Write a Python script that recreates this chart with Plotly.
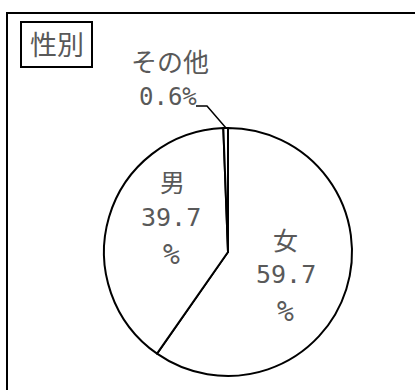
import plotly.graph_objects as go

categories = ["女", "男", "その他"]
values = [59.7, 39.7, 0.6]
value_labels = ["59.7", "39.7", "0.6"]
title_text = "性別"

W, H = 415, 390
def px(x):
    return x / W
def py(y):
    return 1 - y / H

TEXT = "#595959"
FONT_CJK = "Noto Sans CJK JP"
FONT_NUM = "DejaVu Sans Mono"

fig = go.Figure()
fig.add_trace(go.Pie(
    labels=categories,
    values=values,
    sort=False,
    direction="clockwise",
    rotation=0,
    textinfo="none",
    hoverinfo="label+percent",
    marker=dict(colors=["#ffffff"] * 3, line=dict(color="#000000", width=2)),
    domain=dict(x=[px(104), px(352)], y=[py(376), py(128)]),
    showlegend=False,
))

anns = []
def add(text, x, y, size, font=FONT_CJK):
    anns.append(dict(text=text, x=px(x), y=py(y), xref="paper", yref="paper",
                     showarrow=False, xanchor="center", yanchor="middle",
                     font=dict(size=size, color=TEXT, family=font)))

add(title_text, 57, 43, 27)
# その他
add(categories[2], 170, 60.5, 26)
add(value_labels[2] + "%", 168, 96.5, 24, FONT_NUM)
# 男
add(categories[1], 172, 181, 25)
add(value_labels[1], 171, 217.5, 25, FONT_NUM)
add("%", 171.5, 254, 28, FONT_NUM)
# 女
add(categories[0], 285, 238.5, 25)
add(value_labels[0], 285.5, 274, 25, FONT_NUM)
add("%", 285, 311, 28, FONT_NUM)

shapes = [
    # outer frame
    dict(type="rect", xref="paper", yref="paper", x0=px(7), x1=px(430), y0=py(405), y1=py(13),
         line=dict(color="#000", width=2), fillcolor="rgba(0,0,0,0)"),
    # title box
    dict(type="rect", xref="paper", yref="paper", x0=px(21), x1=px(92), y0=py(67), y1=py(22),
         line=dict(color="#000", width=2), fillcolor="rgba(0,0,0,0)"),
    # leader line for その他
    dict(type="path", xref="paper", yref="paper",
         path=f"M {px(196)} {py(106)} L {px(207)} {py(106)} L {px(226)} {py(128)}",
         line=dict(color="#000", width=1.5)),
]

fig.update_layout(
    width=W, height=H,
    margin=dict(l=0, r=0, t=0, b=0),
    paper_bgcolor="#ffffff",
    plot_bgcolor="#ffffff",
    annotations=anns,
    shapes=shapes,
)

fig.write_html("out.html", config={"displayModeBar": False},
               post_script="document.body.style.margin='0';document.body.style.overflow='hidden';")
